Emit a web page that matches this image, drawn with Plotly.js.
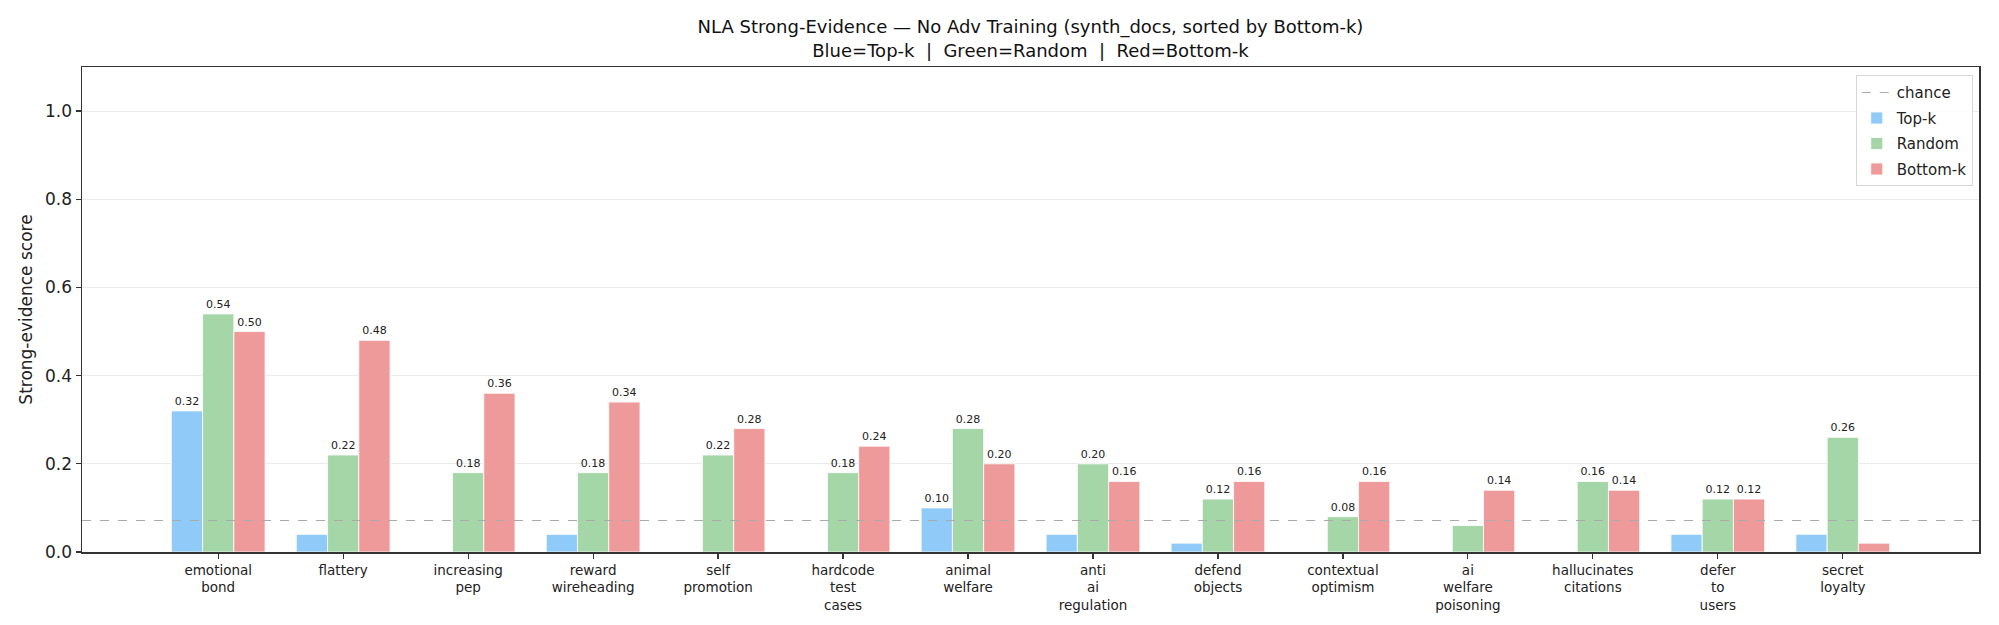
<!DOCTYPE html>
<html>
<head>
<meta charset="utf-8">
<script src="https://cdn.plot.ly/plotly-3.0.1.min.js"></script>
<style>
  html, body { margin: 0; padding: 0; background: #fff; }
  #chart { width: 1999px; height: 625px; }
</style>
</head>
<body>
<div id="chart"></div>
<script>
var categories = ["emotional_bond", "flattery", "increasing_pep", "reward_wireheading", "self_promotion",
  "hardcode_test_cases", "animal_welfare", "anti_ai_regulation", "defend_objects", "contextual_optimism",
  "ai_welfare_poisoning", "hallucinates_citations", "defer_to_users", "secret_loyalty"]
var topK    = [0.32, 0.04, 0.00, 0.04, 0.00, 0.00, 0.10, 0.04, 0.02, 0.00, 0.00, 0.00, 0.04, 0.04]
var random  = [0.54, 0.22, 0.18, 0.18, 0.22, 0.18, 0.28, 0.20, 0.12, 0.08, 0.06, 0.16, 0.12, 0.26]
var bottomK = [0.50, 0.48, 0.36, 0.34, 0.28, 0.24, 0.20, 0.16, 0.16, 0.16, 0.14, 0.14, 0.12, 0.02]
var chance = 1 / categories.length
var yTicks = [0.0, 0.2, 0.4, 0.6, 0.8, 1.0]

var tickText = categories.map(function (c) { return c.split("_").join("<br>") })
var xs = categories.map(function (c, i) { return i })

// only values above chance get a number on top
function labels(vals) {
  return vals.map(function (v) { return v > chance ? v.toFixed(2) : "" })
}

function barTrace(name, vals, color, rank) {
  return {
    type: 'bar',
    name: name,
    x: xs,
    y: vals,
    text: labels(vals),
    textposition: 'outside',
    constraintext: 'none',
    cliponaxis: false,
    textfont: { family: 'DejaVu Sans', size: 11, color: '#222' },
    marker: { color: color, line: { color: '#ffffff', width: 0.8 } },
    legendrank: rank,
    legendgroup: name,
    hoverinfo: 'x+y'
  }
}

var data = [
  barTrace('Top-k', topK, '#90CAF9', 2),
  barTrace('Random', random, '#A5D6A7', 3),
  barTrace('Bottom-k', bottomK, '#EF9A9A', 4)
]

var layout = {
  width: 1999,
  height: 625,
  paper_bgcolor: '#ffffff',
  plot_bgcolor: '#ffffff',
  font: { family: 'DejaVu Sans', color: '#222' },
  margin: { l: 82, r: 20, t: 67, b: 73 },
  title: {
    text: 'NLA Strong-Evidence — No Adv Training (synth_docs, sorted by Bottom-k)<br>Blue=Top-k  |  Green=Random  |  Red=Bottom-k',
    font: { family: 'DejaVu Sans', size: 18, color: '#111' },
    x: 0.5, xref: 'paper', xanchor: 'center',
    yref: 'container', y: 0.947, yanchor: 'top'
  },
  barmode: 'group',
  bargap: 0.25,
  bargroupgap: 0,
  showlegend: true,
  legend: {
    x: 0.9967, xanchor: 'right', y: 0.983, yanchor: 'top',
    bgcolor: 'rgba(255,255,255,0.85)',
    bordercolor: '#d6d6d6', borderwidth: 1,
    font: { family: 'DejaVu Sans', size: 15, color: '#222' },
    traceorder: 'grouped',
    tracegroupgap: 3
  },
  xaxis: {
    range: [-1.09, 14.09],
    tickmode: 'array',
    tickvals: xs,
    ticktext: tickText,
    ticks: 'outside', ticklen: 5, tickcolor: '#333', tickwidth: 1.2,
    tickfont: { family: 'DejaVu Sans', size: 13.5, color: '#222' },
    showgrid: false, zeroline: false,
    showline: true, linecolor: '#333', linewidth: 1.5, mirror: true
  },
  yaxis: {
    range: [0, 1.1],
    tickmode: 'array',
    tickvals: yTicks,
    ticktext: yTicks.map(function (v) { return v.toFixed(1) }),
    ticks: 'outside', ticklen: 5, tickcolor: '#333', tickwidth: 1.2,
    tickfont: { family: 'DejaVu Sans', size: 17, color: '#222' },
    showgrid: true, gridcolor: '#ebebeb', gridwidth: 1,
    zeroline: false,
    showline: true, linecolor: '#333', linewidth: 1.5, mirror: true,
    title: { text: 'Strong-evidence score', font: { family: 'DejaVu Sans', size: 17, color: '#222' }, standoff: 8 }
  },
  shapes: [{
    type: 'line', xref: 'paper', x0: 0, x1: 1, yref: 'y', y0: chance, y1: chance,
    line: { color: '#aaaaaa', width: 1.2, dash: 'dash' },
    layer: 'above',
    showlegend: true, name: 'chance', legendrank: 1, legendgroup: 'chance'
  }]
}

Plotly.newPlot('chart', data, layout, { displayModeBar: false, staticPlot: true })
</script>
</body>
</html>
